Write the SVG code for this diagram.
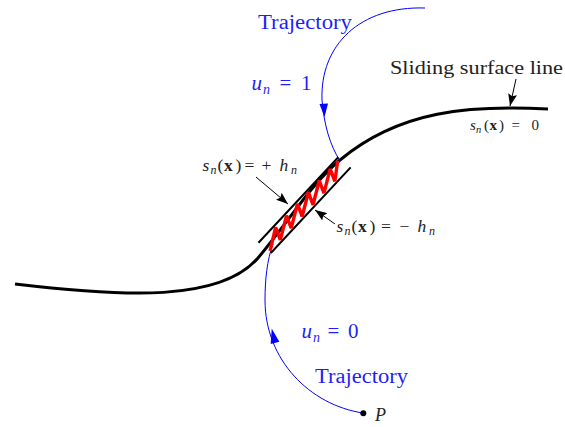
<svg xmlns="http://www.w3.org/2000/svg" width="565" height="427" viewBox="0 0 565 427">
<defs>
<marker id="ah" markerUnits="userSpaceOnUse" markerWidth="13" markerHeight="9" refX="12" refY="4.5" orient="auto">
<path d="M0,0 L12,4.5 L0,9 L2,4.5 z" fill="#000"/>
</marker>
<style>
.b{fill:#1f1ff5;}
.k{fill:#222;}
.i{font-style:italic;}
.bf{font-weight:bold;}
.lbl{stroke:#000;stroke-width:1;fill:none;}
</style>
</defs>
<rect width="565" height="427" fill="#fff"/>
<g id="connectors">
<path id="surface" d="M15,284 C125,297 220,302 258,258 C290,220 310,185 340,160 C400,110 470,105 548,109" fill="none" stroke="#000" stroke-width="3"/>
<path id="traj-top" d="M425,8 C360,6 320,45 322,100 C324,125 330,145 340,161" fill="none" stroke="#0000ff" stroke-width="1"/>
<polygon points="324.5,117 319.5,104 328,103.5" fill="#0000ff"/>
<path id="traj-bottom" d="M363,413 C310,405 265,360 265,300 C265,280 267,260 273,244" fill="none" stroke="#0000ff" stroke-width="1"/>
<polygon points="271.7,328.5 270.7,344 279.3,341.7" fill="#0000ff"/>
<path class="lbl" d="M516,79 L510,106" marker-end="url(#ah)"/>
<path class="lbl" d="M256,177 L288,204" marker-end="url(#ah)"/>
<path class="lbl" d="M335,224 L315,210" marker-end="url(#ah)"/>
</g>
<g id="band" transform="translate(265,247.5) rotate(-47)">
<path d="M-1,-8 H116 M0,8 H117" stroke="#000" stroke-width="2" fill="none"/>
<polyline points="1,6 22,-6 16,6 38,-6 32,6 54,-6 48,6 70,-6 64,6 86,-6 80,6 102,-6 96,6 113,-6" fill="none" stroke="#ff0000" stroke-width="3.4" stroke-linejoin="miter" stroke-miterlimit="3"/>
</g>
<g id="labels" font-family="Liberation Serif, DejaVu Serif, serif">
<text class="b" x="258" y="29" font-size="20" textLength="94" lengthAdjust="spacingAndGlyphs">Trajectory</text>
<text class="b" font-size="21" y="90"><tspan class="i" x="251.5">u</tspan><tspan class="i" x="263" dy="3.5" font-size="14">n</tspan><tspan x="279.5" dy="-3.5">=</tspan><tspan x="301">1</tspan></text>
<text class="k" x="390" y="74" font-size="19" textLength="173" lengthAdjust="spacingAndGlyphs">Sliding surface line</text>
<text class="k" font-size="15" y="130"><tspan class="i" x="470">s</tspan><tspan class="i" x="476" dy="3" font-size="10.5">n</tspan><tspan x="484" dy="-3">(</tspan><tspan class="bf" x="489.5">x</tspan><tspan x="499">)</tspan><tspan x="511.5">=</tspan><tspan x="531.5">0</tspan></text>
<text class="k" font-size="17.5" y="171"><tspan class="i" x="202.5">s</tspan><tspan class="i" x="210.5" dy="3" font-size="12">n</tspan><tspan x="217.5" dy="-3">(</tspan><tspan class="bf" x="224">x</tspan><tspan x="235.5">)</tspan><tspan x="244.5">=</tspan><tspan x="261.5">+</tspan><tspan class="i" x="279.5">h</tspan><tspan class="i" x="291" dy="3" font-size="12">n</tspan></text>
<text class="k" font-size="17.5" y="232"><tspan class="i" x="336.5">s</tspan><tspan class="i" x="344.5" dy="3" font-size="12">n</tspan><tspan x="351.5" dy="-3">(</tspan><tspan class="bf" x="358">x</tspan><tspan x="369.5">)</tspan><tspan x="381">=</tspan><tspan x="399.5">−</tspan><tspan class="i" x="417.5">h</tspan><tspan class="i" x="429" dy="3" font-size="12">n</tspan></text>
<text class="b" font-size="21" y="338"><tspan class="i" x="301.5">u</tspan><tspan class="i" x="313" dy="3.5" font-size="14">n</tspan><tspan x="327.5" dy="-3.5">=</tspan><tspan x="348">0</tspan></text>
<text class="b" x="315" y="383" font-size="20" textLength="93" lengthAdjust="spacingAndGlyphs">Trajectory</text>
<text class="k i" x="375" y="420.5" font-size="18">P</text>
</g>
<g id="P"><circle cx="363.3" cy="413.3" r="3" fill="#000"/></g>
</svg>
